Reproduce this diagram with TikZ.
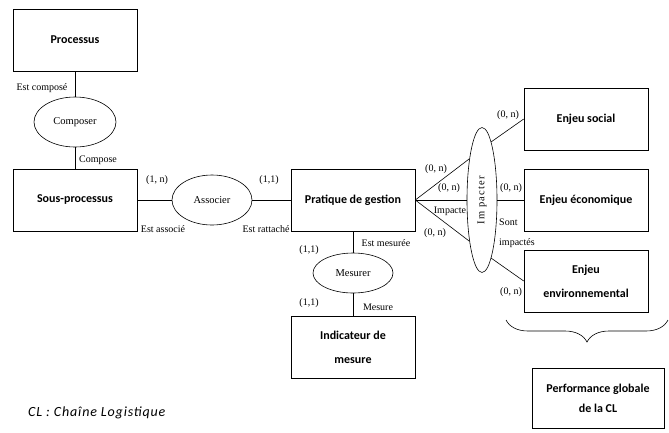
\documentclass[tikz,border=0pt]{standalone}
\usepackage{fontspec}
\usepackage{graphicx}
\setmainfont{Liberation Serif}
\newfontfamily\boxfont{Carlito}
\newfontfamily\notefont[LetterSpace=6]{Carlito}
\newfontfamily\spacedfont[LetterSpace=12]{Liberation Serif}
\usetikzlibrary{shapes.geometric,decorations.pathreplacing,positioning}

\begin{document}
\begin{tikzpicture}[
    x=1pt, y=-1pt,
    box/.style={draw, line width=0.6pt, align=center, minimum width=124pt, minimum height=62pt, inner sep=2pt, font=\boxfont\bfseries\fontsize{12}{24}\selectfont},
    relation/.style={draw, ellipse, line width=0.6pt, inner sep=0pt, minimum width=80pt, minimum height=50pt, font=\fontsize{10.5}{12}\selectfont},
    card/.style={inner sep=0pt, font=\fontsize{10}{12}\selectfont},
    link/.style={line width=0.6pt}
]
\useasboundingbox (0,0) rectangle (669,432);

% entities
\node[box] (processus) at (75,40) {Processus};
\node[box] (sousproc) at (75,200) {Sous-processus};
\node[box] (pratique) at (353,200) {Pratique de gestion};
\node[box] (indicateur) at (353,347) {Indicateur de\\mesure};
\node[box] (social) at (586,119) {Enjeu social};
\node[box] (economique) at (586,200) {Enjeu économique};
\node[box] (environ) at (586,281) {Enjeu\\environnemental};
\node[box, minimum width=132pt, minimum height=60pt, font=\boxfont\bfseries\fontsize{12}{20}\selectfont] (perf) at (598,398) {Performance globale\\de la CL};

% relations
\node[relation, minimum width=82pt] (composer) at (75,122) {Composer};
\node[relation] (associer) at (212,200) {Associer};
\node[relation, minimum height=40pt] (mesurer) at (353,273) {Mesurer};
\node[relation, minimum width=30pt, minimum height=145pt] (impacter) at (482,200) {\rotatebox{90}{\spacedfont Im pacter}};

% roles and cardinalities
\node[card] (c1) at (42,88) {Est composé};
\node[card] (c2) at (98,160) {Compose};
\node[card] (c3) at (157,180) {(1, n)};
\node[card] (c4) at (163,229) {Est associé};
\node[card] (c5) at (269,180) {(1,1)};
\node[card] (c6) at (266,229) {Est rattaché};
\node[card] (c7) at (386,243) {Est mesurée};
\node[card] (c8) at (309,250) {(1,1)};
\node[card] (c9) at (309,303) {(1,1)};
\node[card] (c10) at (378,307) {Mesure};
\node[card] (c11) at (436,169) {(0, n)};
\node[card] (c12) at (449,188) {(0, n)};
\node[card] (c13) at (450,211) {Impacte};
\node[card] (c14) at (435,233) {(0, n)};
\node[card] (c15) at (508,115) {(0, n)};
\node[card] (c16) at (511,188) {(0, n)};
\node[card, anchor=west] (c17) at (499,222) {Sont};
\node[card, anchor=west] (c18) at (499,243) {impactés};
\node[card] (c19) at (511,292) {(0, n)};

\node[anchor=west, inner sep=0pt, font=\notefont\itshape\fontsize{14}{16}\selectfont] (note) at (28,413) {CL : Chaîne Logistique};

% links
\draw[link] (processus) -- (composer);
\draw[link] (composer) -- (sousproc);
\draw[link] (sousproc) -- (associer);
\draw[link] (associer) -- (pratique);
\draw[link] (pratique) -- (mesurer);
\draw[link] (mesurer) -- (indicateur);
\draw[link] (pratique.east) -- (impacter.107);
\draw[link] (pratique.east) -- (impacter.west);
\draw[link] (pratique.east) -- (impacter.253);
\draw[link] (impacter.81) -- (social.west);
\draw[link] (impacter.east) -- (economique.west);
\draw[link] (impacter.-81) -- (environ.west);

% brace
\coordinate (braceL) at (506,320);
\coordinate (braceR) at (668,320);
\draw[link, decorate, decoration={brace, mirror, amplitude=22pt}] (braceL) -- (braceR);
\end{tikzpicture}
\end{document}
